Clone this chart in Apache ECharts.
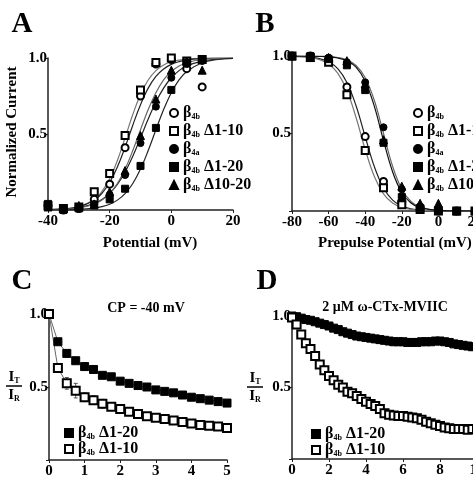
<!DOCTYPE html>
<html>
<head>
<meta charset="utf-8">
<script src="https://cdn.jsdelivr.net/npm/echarts@6/dist/echarts.min.js"></script>
<style>
  html, body { margin: 0; padding: 0; background: #fff; }
  #chart { width: 473px; height: 482px; }
</style>
</head>
<body>
<div id="chart"></div>
<script>
// ---- panel A: activation ----
const A_V = [-40, -35, -30, -25, -20, -15, -10, -5, 0, 5, 10];
const A_B4B = [0.03, 0.0, 0.01, 0.07, 0.17, 0.41, 0.75, 0.96, 0.99, 0.93, 0.81];
const A_D110 = [0.03, 0.01, 0.02, 0.12, 0.24, 0.49, 0.79, 0.97, 1.0, 0.98, 0.99];
const A_B4A = [0.02, 0.0, 0.02, 0.04, 0.1, 0.23, 0.44, 0.68, 0.87, 0.96, 0.98];
const A_D120 = [0.04, 0.0, 0.01, 0.03, 0.07, 0.14, 0.29, 0.54, 0.79, 0.97, 0.99];
const A_D1020 = [0.02, 0.01, 0.03, 0.04, 0.12, 0.26, 0.49, 0.73, 0.92, 0.98, 0.92];
// fitted curves
const A_FIT_V = [-40, -35, -30, -25, -22.5, -20, -17.5, -15, -12.5, -10, -7.5, -5, -2.5, 0, 2.5, 5, 10, 15, 20];
const A_FIT_D110 = [0.002, 0.006, 0.021, 0.069, 0.122, 0.206, 0.326, 0.475, 0.628, 0.76, 0.855, 0.917, 0.954, 0.975, 0.986, 0.993, 0.998, 1.0, 1.0];
const A_FIT_B4B = [0.002, 0.007, 0.021, 0.064, 0.11, 0.181, 0.283, 0.413, 0.558, 0.693, 0.802, 0.879, 0.928, 0.958, 0.976, 0.987, 0.996, 0.999, 1.0];
const A_FIT_B4A = [0.002, 0.006, 0.016, 0.043, 0.069, 0.109, 0.168, 0.25, 0.354, 0.475, 0.599, 0.711, 0.802, 0.87, 0.917, 0.948, 0.98, 0.993, 0.997];
const A_FIT_D1020 = [0.001, 0.004, 0.013, 0.038, 0.065, 0.108, 0.174, 0.269, 0.391, 0.528, 0.661, 0.772, 0.856, 0.911, 0.947, 0.969, 0.99, 0.997, 1.0];
const A_FIT_D120 = [0.0, 0.001, 0.004, 0.013, 0.022, 0.038, 0.065, 0.108, 0.174, 0.269, 0.391, 0.528, 0.661, 0.772, 0.856, 0.911, 0.969, 0.99, 0.997];

// ---- panel B: inactivation ----
const B_V = [-80, -70, -60, -50, -40, -30, -20, -10, 0, 10, 20];
const B_B4B = [1.0, 1.0, 0.97, 0.80, 0.48, 0.19, 0.06, 0.01, 0.0, 0.0, 0.0];
const B_D110 = [1.0, 0.99, 0.96, 0.75, 0.39, 0.15, 0.04, 0.01, 0.0, 0.0, 0.0];
const B_B4A = [1.0, 1.0, 0.99, 0.96, 0.83, 0.54, 0.14, 0.03, 0.01, 0.0, 0.0];
const B_D120 = [1.0, 1.0, 0.98, 0.94, 0.78, 0.44, 0.09, 0.02, 0.0, 0.0, 0.0];
const B_D1020 = [1.0, 0.99, 0.99, 0.97, 0.82, 0.46, 0.16, 0.05, 0.05, 0.0, 0.0];
const B_FIT_V = [-80, -70, -65, -60, -55, -50, -45, -40, -35, -30, -25, -20, -15, -10, 0, 10, 20];
const B_FIT_B4B = [0.999, 0.993, 0.983, 0.963, 0.918, 0.829, 0.679, 0.479, 0.286, 0.148, 0.07, 0.032, 0.014, 0.006, 0.001, 0.0, 0.0];
const B_FIT_D110 = [0.998, 0.99, 0.977, 0.949, 0.889, 0.777, 0.603, 0.397, 0.223, 0.111, 0.051, 0.023, 0.01, 0.004, 0.001, 0.0, 0.0];
const B_FIT_B4A = [1.0, 0.999, 0.998, 0.996, 0.99, 0.974, 0.939, 0.86, 0.713, 0.5, 0.287, 0.14, 0.061, 0.026, 0.004, 0.001, 0.0];
const B_FIT_D120 = [1.0, 0.999, 0.998, 0.995, 0.987, 0.969, 0.928, 0.837, 0.675, 0.455, 0.252, 0.119, 0.052, 0.022, 0.004, 0.001, 0.0];

// ---- panel C: CP = -40 mV ----
const C_T = [0, 0.25, 0.5, 0.75, 1, 1.25, 1.5, 1.75, 2, 2.25, 2.5, 2.75, 3, 3.25, 3.5, 3.75, 4, 4.25, 4.5, 4.75, 5];
const C_D120 = [1.0, 0.81, 0.73, 0.68, 0.64, 0.62, 0.58, 0.57, 0.54, 0.525, 0.51, 0.5, 0.48, 0.47, 0.46, 0.445, 0.43, 0.42, 0.41, 0.4, 0.39];
const C_D110 = [1.0, 0.63, 0.525, 0.475, 0.43, 0.41, 0.385, 0.365, 0.35, 0.33, 0.315, 0.3, 0.29, 0.28, 0.27, 0.26, 0.25, 0.24, 0.235, 0.23, 0.22];
const C_D110_ERR = [0, 0.03, 0.04, 0.05, 0.03, 0.03, 0.03, 0.025, 0.025, 0.02, 0.02, 0.02, 0.02, 0.015, 0.015, 0.015, 0.015, 0.015, 0.01, 0.01, 0.01];

// ---- panel D: 2 uM w-CTx-MVIIC ----
const D_T = [0, 0.25, 0.5, 0.75, 1, 1.25, 1.5, 1.75, 2, 2.25, 2.5, 2.75, 3, 3.25, 3.5, 3.75, 4, 4.25, 4.5, 4.75,
             5, 5.25, 5.5, 5.75, 6, 6.25, 6.5, 6.75, 7, 7.25, 7.5, 7.75, 8, 8.25, 8.5, 8.75, 9, 9.25, 9.5, 9.75, 10];
const D_D120 = [1.0, 0.995, 0.985, 0.975, 0.97, 0.96, 0.95, 0.94, 0.93, 0.915, 0.905, 0.89, 0.88, 0.87, 0.86, 0.855, 0.85, 0.845, 0.84, 0.835,
                0.83, 0.825, 0.82, 0.82, 0.82, 0.815, 0.815, 0.815, 0.82, 0.82, 0.82, 0.825, 0.825, 0.82, 0.815, 0.805, 0.8, 0.795, 0.79, 0.785, 0.785];
const D_D110 = [0.99, 0.94, 0.87, 0.81, 0.77, 0.72, 0.66, 0.62, 0.58, 0.55, 0.52, 0.5, 0.47, 0.46, 0.44, 0.42, 0.4, 0.385, 0.37, 0.35,
                0.32, 0.31, 0.305, 0.3, 0.3, 0.295, 0.29, 0.285, 0.275, 0.26, 0.25, 0.24, 0.23, 0.22, 0.215, 0.21, 0.21, 0.21, 0.205, 0.21, 0.21];

const FONT = '"Liberation Serif", "DejaVu Serif", serif';
const LABELS = {
  'a-b4b': '{g|β}{s|4b}',
  'a-d110': '{g|β}{s|4b}{g| Δ1-10}',
  'a-b4a': '{g|β}{s|4a}',
  'a-d120': '{g|β}{s|4b}{g| Δ1-20}',
  'a-d1020': '{g|β}{s|4b}{g| Δ10-20}'
};
['b', 'c', 'd'].forEach(p => {
  Object.keys(LABELS).filter(k => k.startsWith('a-')).forEach(k => {
    LABELS[p + k.slice(1)] = LABELS[k];
  });
});

const pairs = (xs, ys) => xs.map((x, i) => [x, ys[i]]);
const chart = echarts.init(document.getElementById('chart'));

function xAxis(gi, min, max, interval) {
  return {
    type: 'value', gridIndex: gi, min: min, max: max, interval: interval,
    axisLine: { onZero: false, lineStyle: { color: '#222', width: 1.5 } },
    axisTick: { length: 3, lineStyle: { color: '#222' } },
    splitLine: { show: false },
    axisLabel: { color: '#000', fontFamily: FONT, fontWeight: 'bold', fontSize: 15, margin: 4, hideOverlap: false }
  };
}
function yAxis(gi) {
  return {
    type: 'value', gridIndex: gi, min: 0, max: 1, interval: 0.5,
    axisLine: { onZero: false, lineStyle: { color: '#222', width: 1.5 } },
    axisTick: { length: 3, lineStyle: { color: '#222' } },
    splitLine: { show: false },
    axisLabel: {
      color: '#000', fontFamily: FONT, fontWeight: 'bold', fontSize: 15, margin: 1,
      formatter: v => (v === 0 ? '' : v.toFixed(1))
    }
  };
}
function dots(name, gi, xs, ys, symbol, size) {
  return {
    name: name, type: 'scatter', xAxisIndex: gi, yAxisIndex: gi,
    data: pairs(xs, ys), symbol: symbol, symbolSize: size, z: 5,
    itemStyle: { color: '#000', borderColor: '#000', borderWidth: 1, opacity: 1 }
  };
}
function fit(gi, xs, ys, color) {
  return {
    type: 'line', xAxisIndex: gi, yAxisIndex: gi, data: pairs(xs, ys),
    smooth: 0.4, showSymbol: false, z: 3,
    lineStyle: { color: color, width: 1.2 }
  };
}
function legend(keys, left, top, gap) {
  return {
    orient: 'vertical', left: left, top: top, itemGap: gap, selectedMode: false,
    itemWidth: 8, itemHeight: 8, data: keys,
    formatter: n => LABELS[n],
    textStyle: {
      color: '#000', fontFamily: FONT, fontWeight: 'bold',
      rich: {
        g: { fontSize: 16, lineHeight: 16, fontFamily: FONT, fontWeight: 'bold', color: '#000' },
        s: { fontSize: 8, lineHeight: 9, verticalAlign: 'bottom', fontFamily: FONT, fontWeight: 'bold', color: '#000' }
      }
    }
  };
}
function text(str, x, y, size, extra, align) {
  return Object.assign({
    type: 'text', x: x, y: y,
    style: { text: str, font: 'bold ' + size + 'px ' + FONT, fill: '#000', align: align || 'center', verticalAlign: 'middle' }
  }, extra || {});
}
function fraction(cx, cy) {
  const rich = {
    a: { fontSize: 15, fontFamily: FONT, fontWeight: 'bold' },
    s: { fontSize: 8, fontFamily: FONT, fontWeight: 'bold', verticalAlign: 'bottom', lineHeight: 8 }
  };
  return [
    { type: 'text', x: cx, y: cy - 9, style: { text: '{a|I}{s|T}', rich: rich, align: 'center', verticalAlign: 'middle', fill: '#000' } },
    { type: 'line', shape: { x1: cx - 8, y1: cy, x2: cx + 8, y2: cy }, style: { stroke: '#000', lineWidth: 1.5 } },
    { type: 'text', x: cx, y: cy + 9, style: { text: '{a|I}{s|R}', rich: rich, align: 'center', verticalAlign: 'middle', fill: '#000' } }
  ];
}

const option = {
  animation: false,
  backgroundColor: '#fff',
  grid: [
    { left: 48, top: 58, width: 185, height: 152, outerBoundsMode: 'none', containLabel: false },
    { left: 292, top: 56, width: 183, height: 155, outerBoundsMode: 'none', containLabel: false },
    { left: 49, top: 314, width: 178, height: 146, outerBoundsMode: 'none', containLabel: false },
    { left: 292, top: 316, width: 185, height: 143, outerBoundsMode: 'none', containLabel: false }
  ],
  xAxis: [xAxis(0, -40, 20, 20), xAxis(1, -80, 20, 20), xAxis(2, 0, 5, 1), xAxis(3, 0, 10, 2)],
  yAxis: [yAxis(0), yAxis(1), yAxis(2), yAxis(3)],
  legend: [
    legend(['a-b4b', 'a-d110', 'a-b4a', 'a-d120', 'a-d1020'], 164, 100, 2),
    legend(['b-b4b', 'b-d110', 'b-b4a', 'b-d120', 'b-d1020'], 408, 100, 2),
    legend(['c-d120', 'c-d110'], 59, 420, 0),
    legend(['d-d120', 'd-d110'], 306, 421, 0)
  ],
  graphic: [
    text('A', 22, 25, 29), text('B', 265, 25, 29), text('C', 22, 282, 29), text('D', 267, 282, 29),
    text('Normalized Current', 12, 132, 15, { rotation: Math.PI / 2 }),
    text('Potential (mV)', 150, 243, 15),
    text('Prepulse Potential (mV)', 318, 243, 15, null, 'left'),
    text('CP = -40 mV', 146, 308, 14),
    text('2 μM ω-CTx-MVIIC', 385, 307, 14)
  ].concat(fraction(14, 386), fraction(255, 387)),
  series: [
    fit(0, A_FIT_V, A_FIT_D110, '#777'),
    fit(0, A_FIT_V, A_FIT_B4B, '#222'),
    fit(0, A_FIT_V, A_FIT_B4A, '#222'),
    fit(0, A_FIT_V, A_FIT_D1020, '#666'),
    fit(0, A_FIT_V, A_FIT_D120, '#222'),
    dots('a-b4b', 0, A_V, A_B4B, 'emptyCircle', 7),
    dots('a-d110', 0, A_V, A_D110, 'emptyRect', 7),
    dots('a-b4a', 0, A_V, A_B4A, 'circle', 7),
    dots('a-d120', 0, A_V, A_D120, 'rect', 7),
    dots('a-d1020', 0, A_V, A_D1020, 'triangle', 8),

    fit(1, B_FIT_V, B_FIT_B4B, '#222'),
    fit(1, B_FIT_V, B_FIT_D110, '#777'),
    fit(1, B_FIT_V, B_FIT_B4A, '#666'),
    fit(1, B_FIT_V, B_FIT_D120, '#111'),
    dots('b-b4b', 1, B_V, B_B4B, 'emptyCircle', 7),
    dots('b-d110', 1, B_V, B_D110, 'emptyRect', 7),
    dots('b-b4a', 1, B_V, B_B4A, 'circle', 7),
    dots('b-d120', 1, B_V, B_D120, 'rect', 7),
    dots('b-d1020', 1, B_V, B_D1020, 'triangle', 8),

    {
      type: 'line', xAxisIndex: 2, yAxisIndex: 2, data: pairs(C_T, C_D120),
      showSymbol: false, z: 3, lineStyle: { color: '#666', width: 1 }
    },
    {
      type: 'line', xAxisIndex: 2, yAxisIndex: 2, data: pairs(C_T, C_D110),
      showSymbol: false, z: 3, lineStyle: { color: '#666', width: 1 }
    },
    {
      type: 'custom', xAxisIndex: 2, yAxisIndex: 2, z: 4,
      data: C_T.map((t, i) => [t, C_D110[i] - C_D110_ERR[i], C_D110[i] + C_D110_ERR[i]]),
      renderItem: (params, api) => {
        const lo = api.coord([api.value(0), api.value(1)]);
        const hi = api.coord([api.value(0), api.value(2)]);
        const st = { stroke: '#555', lineWidth: 1 };
        return {
          type: 'group', children: [
            { type: 'line', shape: { x1: lo[0], y1: lo[1], x2: hi[0], y2: hi[1] }, style: st },
            { type: 'line', shape: { x1: lo[0] - 2, y1: lo[1], x2: lo[0] + 2, y2: lo[1] }, style: st },
            { type: 'line', shape: { x1: hi[0] - 2, y1: hi[1], x2: hi[0] + 2, y2: hi[1] }, style: st }
          ]
        };
      }
    },
    dots('c-d120', 2, C_T, C_D120, 'rect', 8),
    dots('c-d110', 2, C_T, C_D110, 'emptyRect', 8),

    dots('d-d120', 3, D_T, D_D120, 'rect', 8),
    dots('d-d110', 3, D_T, D_D110, 'emptyRect', 8)
  ]
};
chart.setOption(option);
</script>
</body>
</html>
